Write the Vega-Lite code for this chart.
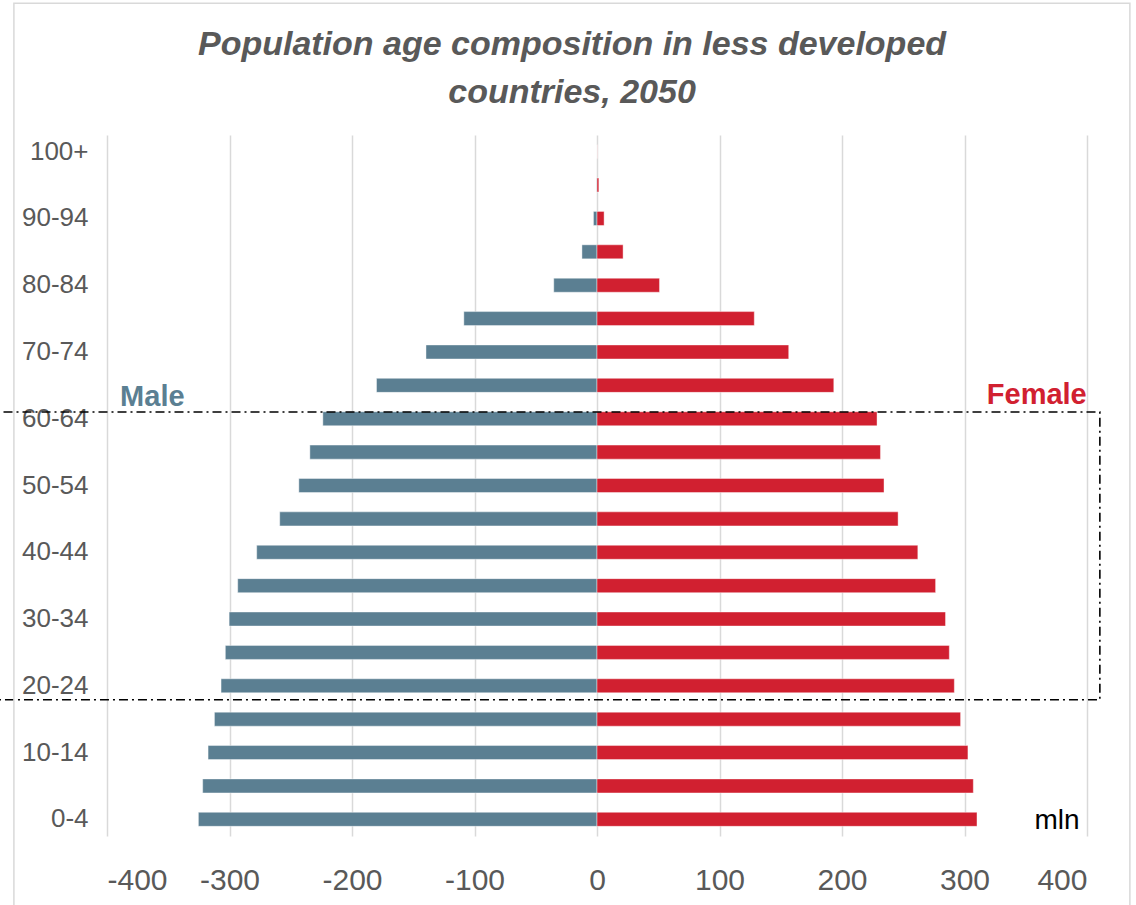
{
  "$schema": "https://vega.github.io/schema/vega-lite/v6.json",
  "width": 980,
  "height": 701,
  "autosize": {"type": "none"},
  "padding": {"left": 107, "top": 135, "right": 49, "bottom": 69},
  "background": "white",
  "config": {
    "view": {"stroke": null},
    "font": "Liberation Sans, Arial, sans-serif"
  },
  "datasets": {
    "pop": [
      {"age": "0-4", "sex": "Male", "value": -325.4},
      {"age": "5-9", "sex": "Male", "value": -321.9},
      {"age": "10-14", "sex": "Male", "value": -317.5},
      {"age": "15-19", "sex": "Male", "value": -312.3},
      {"age": "20-24", "sex": "Male", "value": -306.9},
      {"age": "25-29", "sex": "Male", "value": -303.4},
      {"age": "30-34", "sex": "Male", "value": -300.3},
      {"age": "35-39", "sex": "Male", "value": -293.3},
      {"age": "40-44", "sex": "Male", "value": -277.8},
      {"age": "45-49", "sex": "Male", "value": -259.0},
      {"age": "50-54", "sex": "Male", "value": -243.4},
      {"age": "55-59", "sex": "Male", "value": -234.4},
      {"age": "60-64", "sex": "Male", "value": -223.8},
      {"age": "65-69", "sex": "Male", "value": -180.0},
      {"age": "70-74", "sex": "Male", "value": -139.6},
      {"age": "75-79", "sex": "Male", "value": -108.7},
      {"age": "80-84", "sex": "Male", "value": -35.3},
      {"age": "85-89", "sex": "Male", "value": -12.3},
      {"age": "90-94", "sex": "Male", "value": -2.9},
      {"age": "95-99", "sex": "Male", "value": -0.3},
      {"age": "100+", "sex": "Male", "value": 0},
      {"age": "0-4", "sex": "Female", "value": 310.2},
      {"age": "5-9", "sex": "Female", "value": 307.2},
      {"age": "10-14", "sex": "Female", "value": 302.8},
      {"age": "15-19", "sex": "Female", "value": 296.8},
      {"age": "20-24", "sex": "Female", "value": 291.7},
      {"age": "25-29", "sex": "Female", "value": 287.6},
      {"age": "30-34", "sex": "Female", "value": 284.5},
      {"age": "35-39", "sex": "Female", "value": 276.4},
      {"age": "40-44", "sex": "Female", "value": 261.9},
      {"age": "45-49", "sex": "Female", "value": 245.8},
      {"age": "50-54", "sex": "Female", "value": 234.3},
      {"age": "55-59", "sex": "Female", "value": 231.4},
      {"age": "60-64", "sex": "Female", "value": 228.6},
      {"age": "65-69", "sex": "Female", "value": 193.3},
      {"age": "70-74", "sex": "Female", "value": 156.5},
      {"age": "75-79", "sex": "Female", "value": 128.4},
      {"age": "80-84", "sex": "Female", "value": 51.0},
      {"age": "85-89", "sex": "Female", "value": 21.3},
      {"age": "90-94", "sex": "Female", "value": 5.8},
      {"age": "95-99", "sex": "Female", "value": 1.5},
      {"age": "100+", "sex": "Female", "value": 0.1}
    ]
  },
  "layer": [
    {
      "data": {"name": "pop"},
      "mark": {"type": "bar", "stroke": "#ffffff", "strokeWidth": 0.6, "strokeOpacity": 0.7},
      "encoding": {
        "y": {
          "field": "age",
          "type": "nominal",
          "sort": ["100+", "95-99", "90-94", "85-89", "80-84", "75-79", "70-74", "65-69", "60-64", "55-59", "50-54", "45-49", "40-44", "35-39", "30-34", "25-29", "20-24", "15-19", "10-14", "5-9", "0-4"],
          "scale": {"paddingInner": 0.58, "paddingOuter": 0.29},
          "axis": {
            "title": null,
            "values": ["100+", "90-94", "80-84", "70-74", "60-64", "50-54", "40-44", "30-34", "20-24", "10-14", "0-4"],
            "domain": false,
            "ticks": false,
            "grid": false,
            "labelFontSize": 26,
            "labelColor": "#595959",
            "labelPadding": 19
          }
        },
        "x": {
          "field": "value",
          "type": "quantitative",
          "scale": {"domain": [-400, 400], "nice": false},
          "axis": {
            "title": null,
            "values": [-400, -300, -200, -100, 0, 100, 200, 300, 400],
            "labelExpr": "'' + datum.value",
            "grid": true,
            "gridColor": "#d9d9d9",
            "gridWidth": 1.5,
            "domain": false,
            "ticks": false,
            "labelFontSize": 30,
            "labelColor": "#595959",
            "labelPadding": 29
          }
        },
        "x2": {"datum": 0},
        "color": {
          "field": "sex",
          "type": "nominal",
          "scale": {"domain": ["Male", "Female"], "range": ["#5b7f92", "#d12030"]},
          "legend": null
        }
      }
    },
    {
      "data": {"values": [{}]},
      "mark": {"type": "rect", "fill": null, "fillOpacity": 0, "stroke": "#000000", "strokeWidth": 1.6, "strokeDash": [9, 4, 2, 4]},
      "encoding": {
        "x": {"datum": -500, "type": "quantitative", "scale": {"domain": [-400, 400], "nice": false}},
        "x2": {"datum": 410.5},
        "y": {"datum": 12.2, "type": "quantitative", "scale": {"domain": [-0.5, 20.5], "nice": false, "zero": false}, "axis": null},
        "y2": {"datum": 3.58}
      }
    },
    {
      "data": {"values": [{}]},
      "mark": {"type": "rect", "fill": null, "fillOpacity": 0, "stroke": "#d9d9d9", "strokeWidth": 1.5},
      "encoding": {
        "x": {"datum": -476, "type": "quantitative", "scale": {"domain": [-400, 400], "nice": false}},
        "x2": {"datum": 435},
        "y": {"datum": 24.45, "type": "quantitative", "scale": {"domain": [-0.5, 20.5], "nice": false, "zero": false}, "axis": null},
        "y2": {"datum": -4}
      }
    },
    {
      "data": {"values": [{}]},
      "mark": {"type": "text", "text": ["Population age composition in less developed", "countries, 2050"], "fontSize": 34, "fontStyle": "italic", "fontWeight": "bold", "color": "#595959", "align": "center", "baseline": "alphabetic", "lineHeight": 48},
      "encoding": {
        "x": {"datum": -20.4, "type": "quantitative", "scale": {"domain": [-400, 400], "nice": false}},
        "y": {"datum": 22.9, "type": "quantitative", "scale": {"domain": [-0.5, 20.5], "nice": false, "zero": false}, "axis": null}
      }
    },
    {
      "data": {"values": [{}]},
      "mark": {"type": "text", "text": "Male", "fontSize": 29, "fontWeight": "bold", "color": "#5b7f92", "align": "center", "baseline": "alphabetic"},
      "encoding": {
        "x": {"datum": -363, "type": "quantitative", "scale": {"domain": [-400, 400], "nice": false}},
        "y": {"datum": 12.39, "type": "quantitative", "scale": {"domain": [-0.5, 20.5], "nice": false, "zero": false}, "axis": null}
      }
    },
    {
      "data": {"values": [{}]},
      "mark": {"type": "text", "text": "Female", "fontSize": 29, "fontWeight": "bold", "color": "#d12030", "align": "center", "baseline": "alphabetic"},
      "encoding": {
        "x": {"datum": 359, "type": "quantitative", "scale": {"domain": [-400, 400], "nice": false}},
        "y": {"datum": 12.45, "type": "quantitative", "scale": {"domain": [-0.5, 20.5], "nice": false, "zero": false}, "axis": null}
      }
    },
    {
      "data": {"values": [{}]},
      "mark": {"type": "text", "text": "mln", "fontSize": 28, "color": "#000000", "align": "center", "baseline": "alphabetic"},
      "encoding": {
        "x": {"datum": 375.5, "type": "quantitative", "scale": {"domain": [-400, 400], "nice": false}},
        "y": {"datum": -0.29, "type": "quantitative", "scale": {"domain": [-0.5, 20.5], "nice": false, "zero": false}, "axis": null}
      }
    }
  ],
  "resolve": {"scale": {"y": "independent"}}
}
